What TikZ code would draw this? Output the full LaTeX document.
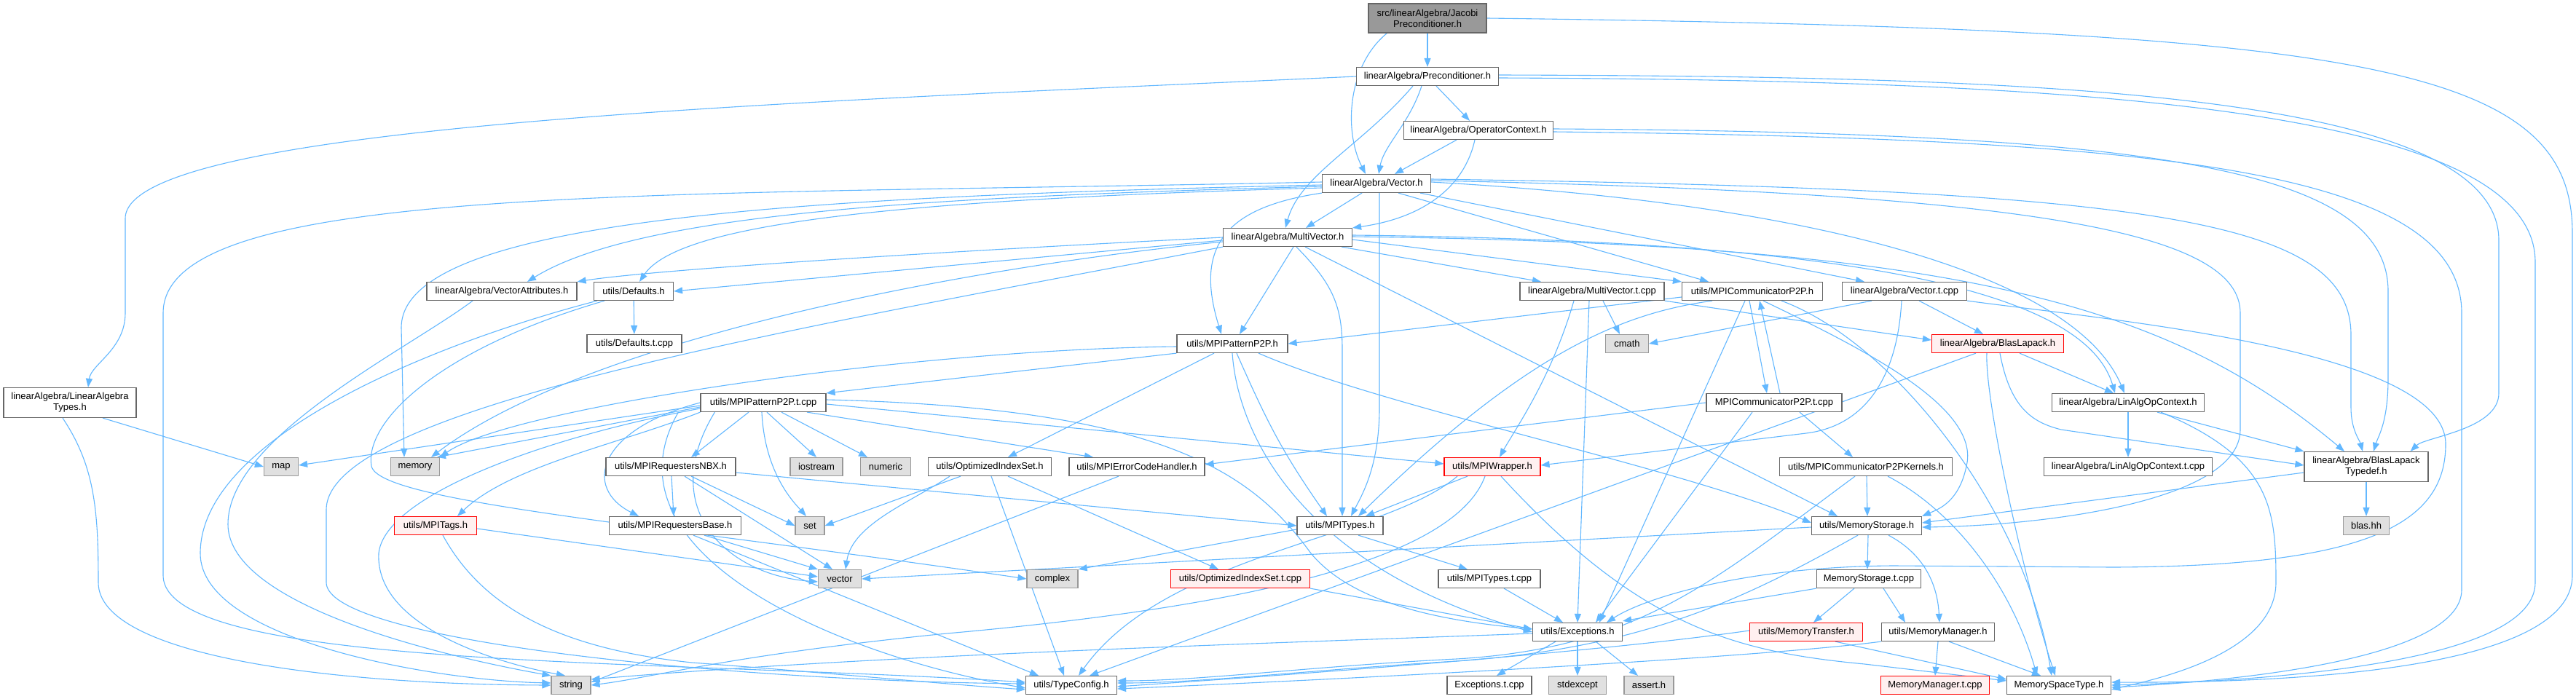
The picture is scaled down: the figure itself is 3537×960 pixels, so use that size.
\documentclass[tikz,border=0pt]{standalone}
\usepackage{fontspec}
\setmainfont{Liberation Sans}
\usetikzlibrary{arrows.meta}
\definecolor{edgec}{HTML}{63B8FF}
\definecolor{bordc}{HTML}{666666}
\definecolor{gbord}{HTML}{999999}
\definecolor{gfill}{HTML}{E0E0E0}
\definecolor{rbord}{HTML}{FF0000}
\definecolor{rfill}{HTML}{FFF0F0}
\definecolor{jfill}{HTML}{999999}
\pgfdeclarelayer{bg}
\pgfdeclarelayer{edges}
\pgfsetlayers{bg,edges,main}
\begin{document}
\begin{tikzpicture}[x=1pt,y=-1pt,
  nd/.style={draw=bordc, fill=white, line width=1.2pt, minimum height=25pt, inner xsep=2pt, inner ysep=1pt, font=\fontsize{13}{15}\selectfont, align=center, text=black},
  gnd/.style={nd, draw=gbord, fill=gfill},
  rnd/.style={nd, draw=rbord, fill=rfill},
  jnd/.style={nd, draw=bordc, fill=jfill, minimum height=40pt},
  two/.style={minimum height=41pt},
  edg/.style={draw=edgec, line width=1.1pt, -{Triangle[length=12pt,width=9pt]}},
]
\useasboundingbox (0,0) rectangle (3537,960);
\begin{pgfonlayer}{bg}
\fill[white] (0,0) rectangle (3537,960);
\end{pgfonlayer}

\node[jnd, minimum width=162pt] (jac) at (1960,25) {src/linearAlgebra/Jacobi\\Preconditioner.h};
\node[nd, minimum width=195pt] (pre) at (1960,105) {linearAlgebra/Preconditioner.h};
\node[nd, minimum width=205pt] (opc) at (2030,179) {linearAlgebra/OperatorContext.h};
\node[nd, minimum width=149pt] (vec) at (1890,252) {linearAlgebra/Vector.h};
\node[nd, minimum width=177pt] (mv) at (1768,326) {linearAlgebra/MultiVector.h};
\node[nd, minimum width=206pt] (va) at (689,400) {linearAlgebra/VectorAttributes.h};
\node[nd, minimum width=109pt] (def) at (870,400) {utils/Defaults.h};
\node[nd, minimum width=198pt] (mvt) at (2186,400) {linearAlgebra/MultiVector.t.cpp};
\node[nd, minimum width=193pt] (cp2p) at (2406,400) {utils/MPICommunicatorP2P.h};
\node[nd, minimum width=171pt] (vt) at (2615,400) {linearAlgebra/Vector.t.cpp};
\node[nd, two, minimum width=182pt] (lat) at (96,553) {linearAlgebra/LinearAlgebra\\Types.h};
\node[nd, minimum width=130pt] (deft) at (871,472) {utils/Defaults.t.cpp};
\node[nd, minimum width=152pt] (pp2p) at (1692,472) {utils/MPIPatternP2P.h};
\node[gnd, minimum width=59pt] (cmath) at (2234,472) {cmath};
\node[rnd, minimum width=181pt] (bl) at (2743,472) {linearAlgebra/BlasLapack.h};
\node[nd, minimum width=172pt] (pp2pt) at (1048,553) {utils/MPIPatternP2P.t.cpp};
\node[nd, minimum width=186pt] (cp2pt) at (2436,553) {MPICommunicatorP2P.t.cpp};
\node[nd, minimum width=209pt] (lao) at (2922,553) {linearAlgebra/LinAlgOpContext.h};
\node[gnd, minimum width=47pt] (map) at (386,641) {map};
\node[gnd, minimum width=67pt] (memory) at (570,641) {memory};
\node[nd, minimum width=178pt] (nbx) at (921,641) {utils/MPIRequestersNBX.h};
\node[gnd, minimum width=72pt] (iostream) at (1121,641) {iostream};
\node[gnd, minimum width=69pt] (numeric) at (1216,641) {numeric};
\node[nd, minimum width=169pt] (ois) at (1359,641) {utils/OptimizedIndexSet.h};
\node[nd, minimum width=186pt] (ech) at (1561,641) {utils/MPIErrorCodeHandler.h};
\node[rnd, minimum width=132pt] (mpiw) at (2049,641) {utils/MPIWrapper.h};
\node[nd, minimum width=237pt] (kern) at (2562,641) {utils/MPICommunicatorP2PKernels.h};
\node[nd, minimum width=231pt] (laot) at (2922,641) {linearAlgebra/LinAlgOpContext.t.cpp};
\node[nd, two, minimum width=170pt] (blt) at (3249,641) {linearAlgebra/BlasLapack\\Typedef.h};
\node[rnd, minimum width=113pt] (tags) at (598,722) {utils/MPITags.h};
\node[nd, minimum width=181pt] (base) at (927,722) {utils/MPIRequestersBase.h};
\node[gnd, minimum width=40pt] (set) at (1112,722) {set};
\node[nd, minimum width=118pt] (mpit) at (1840,722) {utils/MPITypes.h};
\node[nd, minimum width=151pt] (ms) at (2563,722) {utils/MemoryStorage.h};
\node[gnd, minimum width=63pt] (blas) at (3249,722) {blas.hh};
\node[gnd, minimum width=59pt] (vector) at (1153,795) {vector};
\node[gnd, minimum width=70pt] (complex) at (1445,795) {complex};
\node[rnd, minimum width=191pt] (oist) at (1703,795) {utils/OptimizedIndexSet.t.cpp};
\node[nd, minimum width=140pt] (mpitt) at (2045,795) {utils/MPITypes.t.cpp};
\node[nd, minimum width=143pt] (mst) at (2566,795) {MemoryStorage.t.cpp};
\node[nd, minimum width=123pt] (exc) at (2166,868) {utils/Exceptions.h};
\node[rnd, minimum width=155pt] (mtr) at (2480,868) {utils/MemoryTransfer.h};
\node[nd, minimum width=155pt] (mm) at (2661,868) {utils/MemoryManager.h};
\node[gnd, minimum width=54pt] (string) at (784,941) {string};
\node[nd, minimum width=125pt] (tc) at (1471,941) {utils/TypeConfig.h};
\node[nd, minimum width=116pt] (exct) at (2045,941) {Exceptions.t.cpp};
\node[gnd, minimum width=79pt] (stdexcept) at (2166,941) {stdexcept};
\node[gnd, minimum width=68pt] (assert) at (2264,941) {assert.h};
\node[rnd, minimum width=149pt] (mmt) at (2657,941) {MemoryManager.t.cpp};
\node[nd, minimum width=143pt] (msp) at (2827,941) {MemorySpaceType.h};

\begin{pgfonlayer}{edges}
% Jacobi
\draw[edg] (jac) -- (pre);
\draw[edg] ([xshift=26pt]jac.south west) .. controls (1850,90) and (1845,180) .. ([xshift=-15pt]vec.north);
\draw[edg] (jac.east) .. controls (3250,40) and (3532,90) .. (3532,320) -- (3532,790) .. controls (3532,920) and (3150,938) .. ([yshift=4pt]msp.east);
% Preconditioner
\draw[edg] (pre.west) .. controls (1100,140) and (172,170) .. (172,300) -- (172,430) .. controls (172,480) and (125,500) .. ([xshift=25pt]lat.north);
\draw[edg] ([xshift=12pt]pre.south) -- ([xshift=-12pt]opc.north);
\draw[edg] ([xshift=-8pt]pre.south) .. controls (1935,170) and (1900,200) .. ([xshift=3pt]vec.north);
\draw[edg] ([xshift=-20pt]pre.south) .. controls (1870,200) and (1785,240) .. ([xshift=-3pt]mv.north);
\draw[edg] ([yshift=2pt]pre.east) .. controls (2750,105) and (3431,120) .. (3431,330) -- (3431,540) .. controls (3431,590) and (3330,600) .. ([xshift=-25pt]blt.north east);
\draw[edg] ([yshift=-2pt]pre.east) .. controls (2800,110) and (3481,140) .. (3481,360) -- (3481,800) .. controls (3481,905) and (3150,934) .. (msp.east);
% OperatorContext
\draw[edg] ([xshift=-30pt]opc.south) -- ([xshift=25pt]vec.north);
\draw[edg] ([xshift=-5pt]opc.south) .. controls (2010,260) and (1950,300) .. (mv.north east);
\draw[edg] ([yshift=2pt]opc.east) .. controls (2950,182) and (3279,230) .. (3279,400) -- (3279,520) .. controls (3279,580) and (3265,600) .. ([xshift=10pt]blt.north);
\draw[edg] ([yshift=-2pt]opc.east) .. controls (2950,190) and (3380,230) .. (3380,430) -- (3380,810) .. controls (3380,900) and (3100,934) .. ([yshift=-3pt]msp.east);
% Vector
\draw[edg] ([xshift=-20pt]vec.south) -- ([xshift=25pt]mv.north);
\draw[edg] ([yshift=-4pt]vec.west) .. controls (1300,270) and (880,290) .. ([xshift=35pt]va.north);
\draw[edg] ([yshift=-6pt]vec.west) .. controls (1200,275) and (930,310) .. ([xshift=8pt]def.north);
\draw[edg] ([yshift=-2pt]vec.west) .. controls (1100,270) and (551,300) .. (551,450) -- ([xshift=-15pt]memory.north);
\draw[edg] ([yshift=2pt]vec.west) .. controls (900,270) and (224,250) .. (224,430) -- (224,790) .. controls (224,920) and (900,905) .. ([yshift=4pt]tc.west);
\draw[edg] (vec.south west) .. controls (1680,285) and (1640,340) .. ([xshift=-15pt]pp2p.north);
\draw[edg] ([xshift=4pt]vec.south) -- (1894,560) .. controls (1894,640) and (1870,680) .. ([xshift=15pt]mpit.north);
\draw[edg] ([xshift=30pt]vec.south) -- ([xshift=-60pt]cp2p.north);
\draw[edg] ([xshift=60pt]vec.south) -- ([xshift=-55pt]vt.north);
\draw[edg] ([yshift=2pt]vec.east) .. controls (2500,280) and (2850,380) .. ([xshift=-5pt]lao.north);
\draw[edg] ([yshift=6pt]vec.east) .. controls (2950,260) and (3228,300) .. (3228,460) -- (3228,560) .. controls (3228,590) and (3240,605) .. ([xshift=-5pt]blt.north);
\draw[edg] ([yshift=4pt]vec.east) .. controls (2800,265) and (3076,320) .. (3076,430) -- (3076,590) .. controls (3076,690) and (2800,722) .. ([yshift=-2pt]ms.east);
% MultiVector
\draw[edg] (mv.west) .. controls (1300,345) and (900,370) .. (va.north east);
\draw[edg] ([yshift=-4pt]mv.west) -- (def.east);
\draw[edg] ([xshift=8pt]mv.south) -- ([xshift=10pt]pp2p.north);
\draw[edg] ([xshift=12pt]mv.south) .. controls (1830,390) and (1843,420) .. (1843,480) -- ([xshift=3pt]mpit.north);
\draw[edg] ([xshift=24pt]mv.south) -- ([xshift=-40pt]ms.north);
\draw[edg] ([xshift=-15pt]mv.south east) -- ([xshift=-70pt]mvt.north);
\draw[edg] ([yshift=-3pt]mv.east) -- (cp2p.north west);
\draw[edg] ([yshift=3pt]mv.east) .. controls (2500,330) and (2860,390) .. ([xshift=-18pt]lao.north);
\draw[edg] ([yshift=1pt]mv.east) .. controls (2700,335) and (2980,420) .. ([xshift=-30pt]blt.north);
\draw[edg] ([yshift=-6pt]mv.west) .. controls (1300,370) and (800,470) .. ([xshift=22pt]memory.north);
\draw[edg] (mv.south west) .. controls (1100,450) and (448,560) .. (448,700) -- (448,800) .. controls (448,880) and (1000,935) .. ([yshift=2pt]tc.west);
% VectorAttributes, Defaults, LinearAlgebraTypes
\draw[edg] ([xshift=-40pt]va.south) .. controls (560,480) and (313,600) .. (313,720) .. controls (313,830) and (600,900) .. (string.north west);
\draw[edg] (def) -- (deft);
\draw[edg] ([xshift=-50pt]def.south) .. controls (600,470) and (275,600) .. (275,760) .. controls (275,880) and (600,935) .. ([yshift=3pt]string.west);
\draw[edg] ([xshift=-40pt]def.south) .. controls (600,480) and (500,580) .. (510,640) .. controls (520,690) and (900,720) .. (complex.west);
\draw[edg] ([xshift=45pt]lat.south) -- (map.west);
\draw[edg] ([xshift=-10pt]lat.south) .. controls (130,640) and (135,700) .. (135,800) .. controls (135,900) and (450,940) .. (string.west);
% MultiVector.t.cpp
\draw[edg] ([xshift=15pt]mvt.south) -- ([xshift=-10pt]cmath.north);
\draw[edg] ([xshift=-25pt]mvt.south) .. controls (2130,520) and (2080,590) .. ([xshift=10pt]mpiw.north);
\draw[edg] ([xshift=-4pt]mvt.south) -- (exc.north);
\draw[edg] (mvt.south east) -- ([yshift=5pt]bl.west);
% MPICommunicatorP2P.h
\draw[edg] ([yshift=-8pt]cp2p.west) -- (pp2p.east);
\draw[edg] ([xshift=-55pt]cp2p.south) .. controls (2230,430) and (2100,480) .. ([xshift=25pt]mpit.north);
\draw[edg] ([xshift=-10pt]cp2p.south) -- ([xshift=30pt]exc.north);
\draw[edg] ([xshift=-4pt]cp2p.south) -- ([xshift=-10pt]cp2pt.north);
\draw[edg] ([xshift=8pt]cp2pt.north) -- ([xshift=10pt]cp2p.south);
\draw[edg] ([xshift=15pt]cp2p.south) .. controls (2560,480) and (2720,560) .. (2700,640) .. controls (2690,690) and (2660,700) .. (ms.north east);
\draw[edg] ([xshift=40pt]cp2p.south) .. controls (2600,470) and (2780,700) .. ([xshift=-10pt]msp.north);
% Vector.t.cpp
\draw[edg] ([xshift=-45pt]vt.south) -- (cmath.east);
\draw[edg] ([xshift=20pt]vt.south) -- ([xshift=-20pt]bl.north);
\draw[edg] ([xshift=-4pt]vt.south) .. controls (2605,520) and (2560,585) .. (2480,595) -- ([yshift=2pt]mpiw.east);
\draw[edg] (vt.south east) .. controls (2900,440) and (3358,480) .. (3358,610) .. controls (3358,720) and (3250,778) .. (2900,779) -- (2600,777) .. controls (2400,778) and (2260,820) .. ([xshift=40pt]exc.north);
% BlasLapack.h
\draw[edg] ([xshift=30pt]bl.south) -- ([xshift=-20pt]lao.north);
\draw[edg] ([xshift=3pt]bl.south) .. controls (2760,560) and (2790,580) .. (2830,590) -- ([yshift=2pt]blt.west);
\draw[edg] ([xshift=-15pt]bl.south) .. controls (2725,550) and (2780,800) .. ([xshift=-5pt]msp.north);
\draw[edg] ([xshift=-30pt]bl.south) -- ([xshift=25pt]tc.north);
% LinAlgOpContext.h
\draw[edg] (lao) -- (laot);
\draw[edg] ([xshift=40pt]lao.south) -- (blt.north west);
\draw[edg] ([xshift=45pt]lao.south) .. controls (3120,630) and (3125,700) .. (3125,800) .. controls (3125,900) and (2950,935) .. ([yshift=-6pt]msp.east);
% BlasLapackTypedef.h
\draw[edg] (blt) -- (blas);
\draw[edg] ([yshift=-8pt]blt.west) -- ([yshift=4pt]ms.east);
% MPIPatternP2P.h
\draw[edg] (pp2p.south west) -- (pp2pt.north east);
\draw[edg] ([xshift=-25pt]pp2p.south) -- ([xshift=25pt]ois.north);
\draw[edg] ([xshift=6pt]pp2p.south) .. controls (1740,580) and (1760,620) .. ([xshift=-18pt]mpit.north);
\draw[edg] (pp2p.south) .. controls (1700,600) and (1790,780) .. (exc.west);
\draw[edg] ([xshift=36pt]pp2p.south) .. controls (1900,560) and (2300,640) .. ([yshift=4pt]ms.west);
\draw[edg] ([yshift=-4pt]pp2p.west) .. controls (1250,480) and (700,560) .. (memory.north east);
% MPIPatternP2P.t.cpp
\draw[edg] ([yshift=-4pt]pp2pt.west) -- ([yshift=2pt]map.east);
\draw[edg] ([yshift=-6pt]pp2pt.west) -- ([xshift=-4pt]memory.north east);
\draw[edg] (pp2pt.south west) .. controls (850,610) and (700,640) .. ([xshift=30pt]tags.north);
\draw[edg] ([xshift=-20pt]pp2pt.south) -- ([xshift=28pt]nbx.north);
\draw[edg] (pp2pt.west) .. controls (820,590) and (800,670) .. ([xshift=-50pt]base.north);
\draw[edg] ([xshift=5pt]pp2pt.south) -- (iostream.north);
\draw[edg] ([xshift=25pt]pp2pt.south) -- ([xshift=-25pt]numeric.north);
\draw[edg] ([xshift=-2pt]pp2pt.south) .. controls (1050,650) and (1090,690) .. ([xshift=-5pt]set.north);
\draw[edg] ([xshift=60pt]pp2pt.south) -- ([xshift=-60pt]ech.north);
\draw[edg] ([yshift=-2pt]pp2pt.east) -- ([yshift=4pt]mpiw.west);
\draw[edg] ([yshift=4pt]pp2pt.east) .. controls (1600,560) and (1720,650) .. (1800,760) .. controls (1850,820) and (1950,850) .. ([yshift=4pt]exc.west);
\draw[edg] ([yshift=-8pt]pp2pt.west) .. controls (750,600) and (528,680) .. (520,760) .. controls (515,860) and (680,910) .. ([xshift=-8pt]string.north);
\draw[edg] ([xshift=-30pt]pp2pt.south west) .. controls (820,760) and (1150,900) .. ([yshift=-4pt]tc.west);
\draw[edg] ([xshift=20pt]pp2pt.south west) .. controls (900,700) and (1000,790) .. ([yshift=-4pt]vector.west);
% MPIRequestersNBX.h
\draw[edg] ([xshift=1pt]nbx.south) -- ([xshift=-2pt]base.north);
\draw[edg] ([xshift=28pt]nbx.south) -- (set.west);
\draw[edg] ([xshift=19pt]nbx.south) -- ([xshift=-10pt]vector.north);
\draw[edg] ([yshift=-8pt]nbx.east) -- (mpit.west);
% MPIRequestersBase.h
\draw[edg] ([xshift=40pt]base.south) -- (vector.north west);
\draw[edg] ([xshift=25pt]base.south) -- ([xshift=-45pt]tc.north);
% OptimizedIndexSet.h
\draw[edg] ([xshift=-40pt]ois.south) -- (set.east);
\draw[edg] ([xshift=-55pt]ois.south) .. controls (1250,690) and (1170,720) .. ([xshift=8pt]vector.north);
\draw[edg] ([xshift=2pt]ois.south) -- ([xshift=-10pt]tc.north);
\draw[edg] ([xshift=25pt]ois.south) -- ([xshift=-30pt]oist.north);
% MPIErrorCodeHandler.h, OptimizedIndexSet.t.cpp, MPITags.h
\draw[edg] ([xshift=-25pt]ech.south) -- ([yshift=4pt]string.east);
\draw[edg] (oist.south east) -- ([yshift=4pt]exc.west);
\draw[edg] ([yshift=-4pt]tags.east) -- ([yshift=3pt]vector.west);
\draw[edg] ([xshift=10pt]tags.south) .. controls (660,830) and (760,890) .. (950,910) .. controls (1150,925) and (1300,940) .. ([yshift=-6pt]tc.west);
% MPIWrapper.h
\draw[edg] ([xshift=-34pt]mpiw.south) -- ([xshift=35pt]mpit.north);
\draw[edg] ([xshift=-48pt]mpiw.south) .. controls (1900,740) and (1600,760) .. ([xshift=10pt]tc.north);
\draw[edg] ([xshift=-10pt]mpiw.south) .. controls (2000,760) and (1750,830) .. (1300,870) .. controls (1000,900) and (900,930) .. (string.east);
\draw[edg] ([xshift=12pt]mpiw.south) .. controls (2250,860) and (2380,895) .. (2560,912) -- ([yshift=6pt]msp.west);
% MPITypes.h
\draw[edg] ([xshift=25pt]mpit.south) -- ([xshift=-30pt]mpitt.north);
\draw[edg] ([yshift=-5pt]mpit.west) -- (complex.north east);
\draw[edg] ([xshift=20pt]mpitt.south) -- ([xshift=-20pt]exc.north);
% MPICommunicatorP2P.t.cpp
\draw[edg] (cp2pt.west) -- ([yshift=3pt]ech.east);
\draw[edg] ([xshift=35pt]cp2pt.south) -- ([xshift=-18pt]kern.north);
\draw[edg] ([xshift=-30pt]cp2pt.south) -- ([xshift=25pt]exc.north);
% Kernels
\draw[edg] ([xshift=1pt]kern.south) -- ([xshift=1pt]ms.north);
\draw[edg] ([xshift=30pt]kern.south) .. controls (2680,700) and (2760,800) .. ([xshift=-30pt]msp.north);
\draw[edg] ([xshift=-15pt]kern.south) .. controls (2350,800) and (2250,890) .. (2000,905) .. controls (1800,915) and (1650,935) .. ([yshift=6pt]tc.east);
% MemoryStorage.h
\draw[edg] ([xshift=2pt]ms.south) -- ([xshift=-2pt]mst.north);
\draw[edg] ([xshift=30pt]ms.south) .. controls (2640,760) and (2660,800) .. ([xshift=2pt]mm.north);
\draw[edg] ([xshift=-12pt]ms.south) .. controls (2400,820) and (2260,890) .. (2000,908) .. controls (1800,920) and (1650,938) .. ([yshift=3pt]tc.east);
\draw[edg] ([yshift=-2pt]ms.west) -- (vector.east);
% MemoryStorage.t.cpp
\draw[edg] (mst.south west) -- ([yshift=2pt]exc.north east);
\draw[edg] ([xshift=-20pt]mst.south) -- ([xshift=10pt]mtr.north);
\draw[edg] ([xshift=20pt]mst.south) -- ([xshift=-45pt]mm.north);
% Exceptions.h
\draw[edg] ([xshift=-30pt]exc.south) -- ([xshift=10pt]exct.north);
\draw[edg] (exc.south) -- (stdexcept.north);
\draw[edg] ([xshift=25pt]exc.south) -- ([xshift=-15pt]assert.north);
\draw[edg] ([yshift=-2pt]exc.west) .. controls (1700,885) and (1200,900) .. ([yshift=8pt]string.east);
% MemoryTransfer.h, MemoryManager.h
\draw[edg] ([yshift=2pt]mtr.west) .. controls (2200,895) and (1800,925) .. ([yshift=-2pt]tc.east);
\draw[edg] ([xshift=40pt]mtr.south) -- ([yshift=8pt]msp.west);
\draw[edg] (mm.south) -- (mmt.north);
\draw[edg] ([xshift=15pt]mm.south) -- ([xshift=-25pt]msp.north);
\draw[edg] (mm.south west) .. controls (2400,905) and (1800,935) .. ([yshift=-5pt]tc.east);
\end{pgfonlayer}
\end{tikzpicture}
\end{document}
